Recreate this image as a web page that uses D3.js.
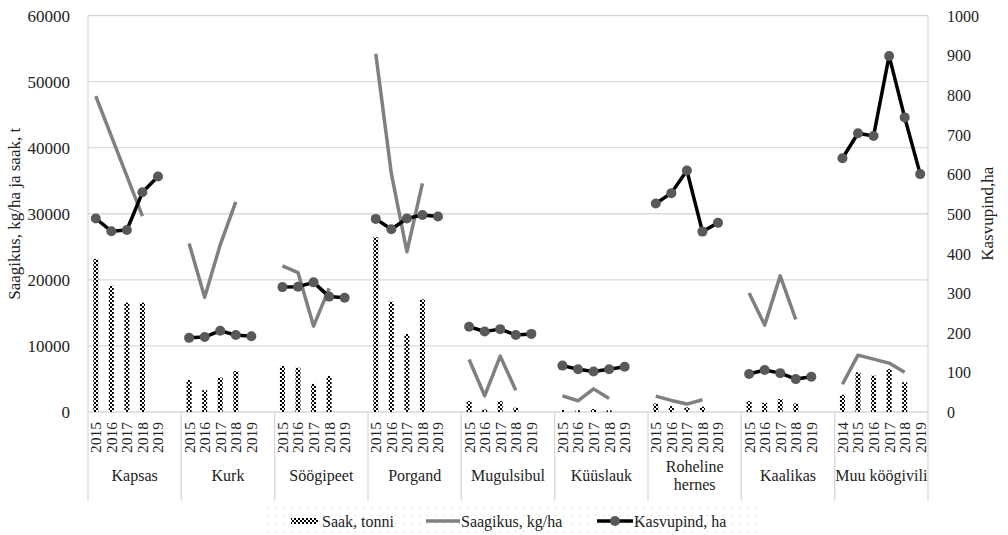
<!DOCTYPE html>
<html><head><meta charset="utf-8">
<script src="https://cdn.jsdelivr.net/npm/d3@7"></script>
</head>
<body style="margin:0;background:#fff">
<svg id="chart" width="1008" height="535" style="display:block"></svg>
<script>
const categories = ["Kapsas","Kurk","Söögipeet","Porgand","Mugulsibul","Küüslauk","Roheline hernes","Kaalikas","Muu köögivili"];
const yearLabels = [
  ["2015","2016","2017","2018","2019",""],
  ["2015","2016","2017","2018","2019",""],
  ["2015","2016","2017","2018","2019",""],
  ["2015","2016","2017","2018","2019",""],
  ["2015","2016","2017","2018","2019",""],
  ["2015","2016","2017","2018","2019",""],
  ["2015","2016","2017","2018","2019",""],
  ["2015","2016","2017","2018","2019",""],
  ["2014","2015","2016","2017","2018","2019"]
];
// Saak, tonni (left axis)
const saak = [
  [23150,19100,16550,16550],
  [4850,3300,5200,6200],
  [6950,6700,4250,5450],
  [26450,16700,11800,17050],
  [1650,400,1650,650],
  [300,250,450,250],
  [1300,900,700,800],
  [1650,1400,1950,1300],
  [2600,6000,5500,6500,4500]
];
// Saagikus, kg/ha (left axis)
const saagikus = [
  [47800,41750,35700,29650],
  [25500,17350,25300,31800],
  [22100,21100,13000,18700],
  [54200,36100,24250,34600],
  [7950,2450,8450,3300],
  [2450,1700,3500,2050],
  [2400,1750,1200,1850],
  [18000,13150,20600,14000],
  [4200,8600,8000,7400,6000]
];
// Kasvupind, ha (right axis)
const kasvupind = [
  [488,456,459,554,594],
  [187,189,205,194,191],
  [315,316,327,291,288],
  [487,461,488,497,493],
  [215,203,209,194,197],
  [117,108,102,108,114],
  [526,552,609,455,477],
  [96,106,98,83,89],
  [640,703,696,898,743,600]
];
const leftTicks = [0,10000,20000,30000,40000,50000,60000];
const rightTicks = [0,100,200,300,400,500,600,700,800,900,1000];

const FONT = "Liberation Serif";
const svg = d3.select("#chart").style("font-family", FONT);
const L = 88, R = 928, T = 15.5, B = 412;

const x = d3.scaleBand().domain(categories).range([L, R]).padding(0);
const slot = d3.scaleBand().domain(d3.range(6)).range([0, x.bandwidth()]).padding(0);
const yL = d3.scaleLinear().domain([0, 60000]).range([B, T]);
const yR = d3.scaleLinear().domain([0, 1000]).range([B, T]);
const cx = (ci, si) => x(categories[ci]) + slot(si) + slot.bandwidth() / 2;

// patterns
const defs = svg.append("defs");
const pat = defs.append("pattern").attr("id","checker").attr("patternUnits","userSpaceOnUse")
  .attr("width",4).attr("height",4);
pat.append("rect").attr("width",4).attr("height",4).attr("fill","#fff");
pat.append("rect").attr("x",0).attr("y",0).attr("width",2).attr("height",2).attr("fill","#000");
pat.append("rect").attr("x",2).attr("y",2).attr("width",2).attr("height",2).attr("fill","#000");
const dots = defs.append("pattern").attr("id","dots").attr("patternUnits","userSpaceOnUse")
  .attr("width",8).attr("height",8);
dots.append("rect").attr("x",3).attr("y",3).attr("width",1).attr("height",1).attr("fill","#d0d0d0");

// gridlines
svg.append("g").selectAll("line").data(leftTicks).join("line")
  .attr("x1", L).attr("x2", R).attr("y1", d => yL(d)).attr("y2", d => yL(d))
  .attr("stroke", "#d9d9d9").attr("stroke-width", 1.3);

// frame verticals
const bounds = categories.map(c => x(c)).concat([R]);
svg.append("g").selectAll("line").data(bounds).join("line")
  .attr("x1", d => d).attr("x2", d => d)
  .attr("y1", (d, i) => (i === 0 || i === bounds.length - 1) ? T : B)
  .attr("y2", 500)
  .attr("stroke", "#d9d9d9").attr("stroke-width", 1.3);

// left axis labels
const axL = svg.append("g").attr("transform", `translate(${L - 15},0)`)
  .call(d3.axisLeft(yL).tickValues(leftTicks).tickSize(0).tickFormat(d3.format("d")));
axL.select(".domain").remove();
axL.selectAll("text").attr("font-size", 17).attr("fill","#222").attr("dy","0.35em");

// right axis labels
const axR = svg.append("g").attr("transform", `translate(${R + 16},0)`)
  .call(d3.axisRight(yR).tickValues(rightTicks).tickSize(0).tickFormat(d3.format("d")));
axR.select(".domain").remove();
axR.selectAll("text").attr("font-size", 16).attr("fill","#222").attr("dy","0.35em");

// axis titles
svg.append("text").attr("transform", `translate(20,${(T + B) / 2}) rotate(-90)`)
  .attr("text-anchor","middle").attr("font-size", 17).attr("fill","#222")
  .text("Saagikus, kg/ha ja saak, t");
svg.append("text").attr("transform", `translate(993,${(T + B) / 2}) rotate(-90)`)
  .attr("text-anchor","middle").attr("font-size", 17).attr("fill","#222")
  .text("Kasvupind,ha");

// bars
const barW = 5;
const barData = [];
saak.forEach((arr, ci) => arr.forEach((v, si) => barData.push({ci, si, v})));
svg.append("g").selectAll("rect").data(barData).join("rect")
  .attr("x", d => cx(d.ci, d.si) - barW / 2)
  .attr("width", barW)
  .attr("y", d => yL(d.v))
  .attr("height", d => yL(0) - yL(d.v))
  .attr("fill", "url(#checker)");

// Saagikus lines
const lineL = d3.line().x(d => d.x).y(d => yL(d.v));
saagikus.forEach((arr, ci) => {
  svg.append("path")
    .datum(arr.map((v, si) => ({x: cx(ci, si), v})))
    .attr("d", lineL).attr("fill","none").attr("stroke","#808080")
    .attr("stroke-width", 3.5).attr("stroke-linejoin","round");
});

// Kasvupind lines
const lineR = d3.line().x(d => d.x).y(d => yR(d.v));
kasvupind.forEach((arr, ci) => {
  const pts = arr.map((v, si) => ({x: cx(ci, si), v}));
  svg.append("path").datum(pts).attr("d", lineR).attr("fill","none")
    .attr("stroke","#000").attr("stroke-width", 3.5).attr("stroke-linejoin","round");
  svg.append("g").selectAll("circle").data(pts).join("circle")
    .attr("cx", d => d.x).attr("cy", d => yR(d.v)).attr("r", 5)
    .attr("fill", "#595959");
});

// year labels
yearLabels.forEach((arr, ci) => {
  svg.append("g").selectAll("text").data(arr).join("text")
    .attr("transform", (d, si) => `translate(${cx(ci, si)},422) rotate(-90)`)
    .attr("text-anchor","end").attr("dy","0.35em")
    .attr("font-size", 15.5).attr("fill","#222")
    .text(d => d);
});

// category labels
svg.append("g").selectAll("text").data(categories).join("text")
  .attr("x", d => x(d) + x.bandwidth() / 2)
  .attr("y", 481)
  .attr("text-anchor","middle").attr("font-size", 16).attr("fill","#222")
  .each(function(d) {
    const t = d3.select(this);
    if (d === "Roheline hernes") {
      t.attr("y", 472);
      t.append("tspan").attr("x", x(d) + x.bandwidth() / 2).text("Roheline");
      t.append("tspan").attr("x", x(d) + x.bandwidth() / 2).attr("dy", 18).text("hernes");
    } else {
      t.text(d);
    }
  });

// legend
const lg = svg.append("g");
lg.append("rect").attr("x", 264).attr("y", 506).attr("width", 492).attr("height", 29).attr("fill","url(#dots)");
lg.append("rect").attr("x", 291).attr("y", 518).attr("width", 27).attr("height", 6).attr("fill","url(#checker)");
lg.append("text").attr("x", 322).attr("y", 521).attr("dy","0.35em").attr("font-size", 16).attr("fill","#222").text("Saak, tonni");
lg.append("line").attr("x1", 426).attr("x2", 460).attr("y1", 521).attr("y2", 521).attr("stroke","#808080").attr("stroke-width", 3.5);
lg.append("text").attr("x", 461).attr("y", 521).attr("dy","0.35em").attr("font-size", 16).attr("fill","#222").text("Saagikus, kg/ha");
lg.append("line").attr("x1", 597).attr("x2", 633).attr("y1", 521).attr("y2", 521).attr("stroke","#000").attr("stroke-width", 3.5);
lg.append("circle").attr("cx", 615).attr("cy", 521).attr("r", 5).attr("fill","#595959");
lg.append("text").attr("x", 634).attr("y", 521).attr("dy","0.35em").attr("font-size", 16).attr("fill","#222").text("Kasvupind, ha");

// force font on every text (including axis groups which set their own family)
svg.selectAll("g").attr("font-family", null);
svg.selectAll("text").style("font-family", FONT);
</script>
</body></html>
